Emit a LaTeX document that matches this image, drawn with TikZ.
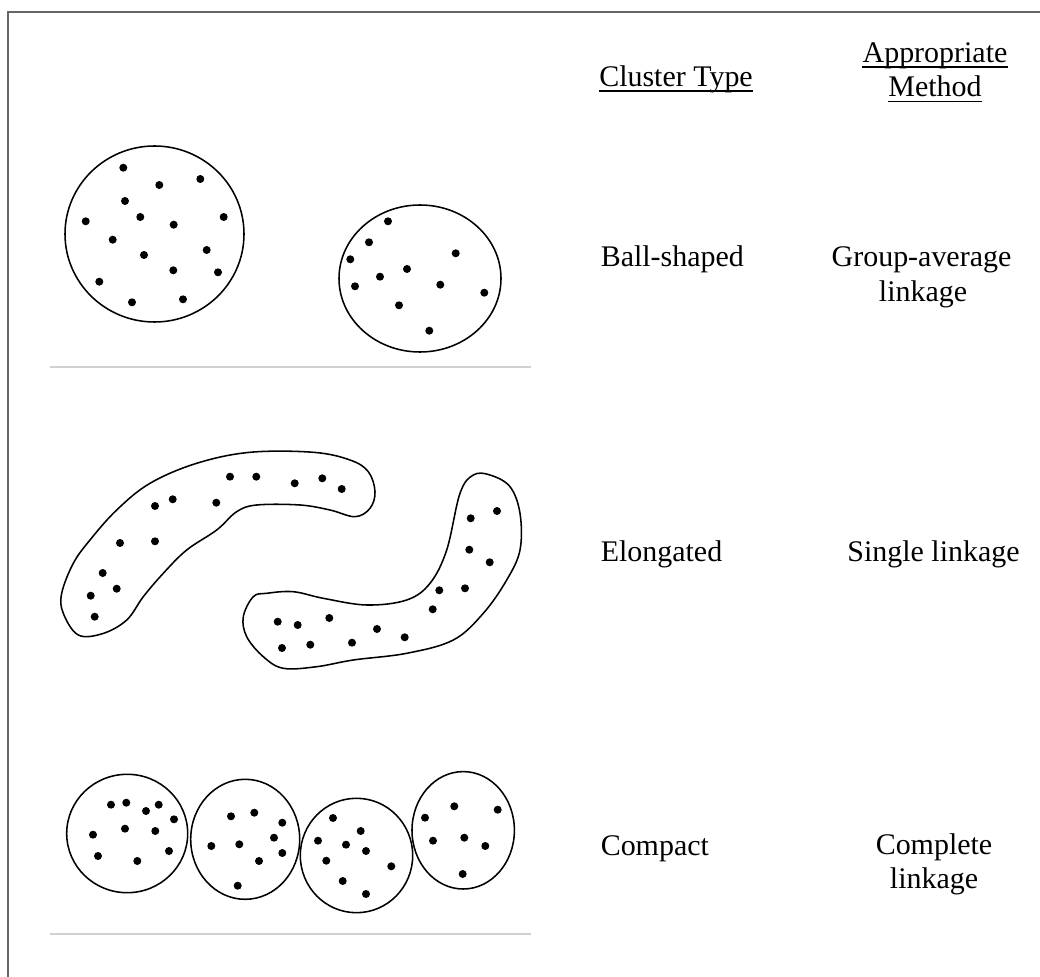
\documentclass[tikz,border=0pt]{standalone}
\usepackage{fontspec}
\setmainfont{Liberation Serif}
\begin{document}
\begin{tikzpicture}[x=0.025cm,y=-0.025cm,
    lbl/.style={inner sep=0pt,font=\fontsize{21.3}{25}\selectfont},
    rim/.style={line width=1.1pt},
    uline/.style={line width=1pt},
    sep/.style={black!18,line width=0.8pt}]
  \useasboundingbox (0,0) rectangle (1040,977);
  \draw[black!60,line width=1.5pt] (1040,12) -- (8,12) -- (8,977);
  % ball-shaped
  \draw[rim] (154.5,234) ellipse [x radius=89.5, y radius=88];
  \draw[rim] (420,278.5) ellipse [x radius=81, y radius=73.5];
  \foreach \p in {(123.3,167.7),(159.3,185),(200.3,179),(125,201),(85.7,221.3),
      (140.3,217),(173.7,224.7),(223.7,217),(112.7,239.7),(206.7,250),(144,255),
      (173.3,270.3),(218,272.3),(99.3,281.7),(132,302.3),(183,299.3),
      (388,221.3),(369,242.3),(350.3,259.3),(455.7,253.3),(407,269),(380,276.7),
      (355,286.3),(440.3,284.7),(484.3,292.7),(399,305.3),(429.3,330.7)}
    \fill \p circle (0.1cm);
  \draw[sep] (50,367) -- (531,367);
  % elongated
  \draw[rim] plot[smooth cycle,tension=0.6] coordinates {(78.3,635) (63.3,613.3)
      (61.7,593.3) (73.3,563.3) (90,540) (116.7,510) (150,483.3) (196.7,463.3)
      (250,452.3) (313.3,452.3) (350,460) (368.3,471.7) (375,491.7) (370,508.3)
      (355,516.7) (330,510) (300,505) (256.7,505) (236.7,511.7) (216.7,530)
      (186.7,550) (163.3,573.3) (143.3,596.7) (126.7,620) (103,633.5)};
  \draw[rim] plot[smooth cycle,tension=0.6] coordinates {(243.3,616.7) (253.3,596.7)
      (266.7,593.3) (293.3,591.7) (323.3,598.3) (366.7,605) (406.7,600) (430,583.3)
      (446.7,550) (460,493.3) (473.3,475) (490,475) (510,486.7) (520,513.3)
      (520,550) (506.7,580) (483.3,613.3) (453.3,640) (406.7,653.3) (353.3,660)
      (316.7,666.7) (283.3,668.3) (263.3,656.7) (246.7,636.7)};
  \foreach \p in {(230,476.7),(256.3,476.7),(294.7,483.3),(322.3,478.3),(341.7,489),
      (155,506),(172.7,499.3),(216.3,502.7),(120,543),(155,541.3),(102.7,573),
      (116.7,588.7),(90.7,595.7),(94.7,616.7),
      (470.7,518.3),(497,511),(469.3,549.7),(489.7,562.3),(439.3,590.3),(465,588.3),
      (432.7,609.3),(277.7,621.7),(297.7,625),(329.3,618),(377,629),(404.7,637.3),
      (282,648),(310.3,644.7),(352,642.7)}
    \fill \p circle (0.1cm);
  % compact
  \draw[rim] (127.2,833.5) ellipse [x radius=60.5, y radius=59.2];
  \draw[rim] (245.2,839.3) ellipse [x radius=54.5, y radius=60];
  \draw[rim] (356.5,855.5) ellipse [x radius=56.2, y radius=57.2];
  \draw[rim] (463.2,830.3) ellipse [x radius=51.2, y radius=58.7];
  \foreach \p in {(111,804.7),(126.3,802.7),(146,811),(158.7,804.7),(174,819.3),
      (93,834.7),(125,828.7),(155.3,831),(98,856),(137.3,861),(169,851),
      (231,816.3),(254.3,812.7),(282.3,822.7),(274,837.7),(211.3,846),(239.3,844.3),
      (282.3,853),(259,861),(237.7,885.7),
      (333,818),(360.7,831),(318,840.7),(346,844.7),(366,851),(326.3,860.7),
      (391.3,866.3),(342.7,881),(366,894),
      (454.3,806.3),(497.7,809.7),(425,817.7),(433,840.7),(464.3,837.7),
      (485.3,846),(462.7,874)}
    \fill \p circle (0.1cm);
  \draw[sep] (50,934) -- (531,934);
  % headings
  \node[lbl,anchor=base west] (ctype) at (599,87) {Cluster Type};
  \node[lbl,anchor=base] (appr) at (935,63) {Appropriate};
  \node[lbl,anchor=base] (meth) at (935,97) {Method};
  \draw[uline] ([yshift=-0.1cm]ctype.base west) -- ([yshift=-0.1cm]ctype.base east);
  \draw[uline] ([yshift=-0.1cm]appr.base west) -- ([yshift=-0.1cm]appr.base east);
  \draw[uline] ([yshift=-0.12cm]meth.base west) -- ([yshift=-0.12cm]meth.base east);
  % rows
  \node[lbl,anchor=base west] (ball) at (600.5,267) {Ball-shaped};
  \node[lbl,anchor=base] (grp) at (921.5,267) {Group-average};
  \node[lbl,anchor=base] (grplk) at (923,301.5) {linkage};
  \node[lbl,anchor=base west] (elong) at (600.5,561) {Elongated};
  \node[lbl,anchor=base] (single) at (933.5,561) {Single linkage};
  \node[lbl,anchor=base west] (comp) at (600.5,855) {Compact};
  \node[lbl,anchor=base] (cmpl) at (934,854.5) {Complete};
  \node[lbl,anchor=base] (cmpllk) at (934,888.5) {linkage};
\end{tikzpicture}
\end{document}
